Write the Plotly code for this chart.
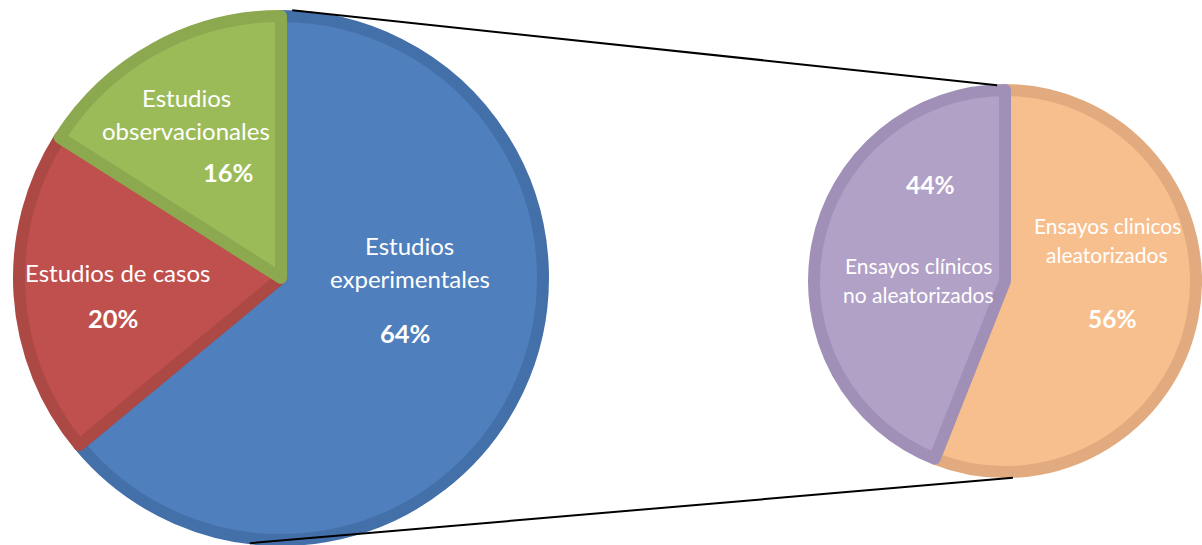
import plotly.graph_objects as go
import math

# ---------------- data ----------------
main_labels = ["Estudios<br>experimentales", "Estudios de casos", "Estudios<br>observacionales"]
main_values = [64, 20, 16]
sub_labels = ["Ensayos clinicos<br>aleatorizados", "Ensayos clínicos<br>no aleatorizados"]
sub_values = [56, 44]

# ---------------- styles ----------------
W, H = 1202, 545
main_fill = ["#4F7FBC", "#C0504D", "#9BBB59"]
main_line = ["#4470AA", "#AD4945", "#8CA950"]
sub_fill = ["#F8BF8E", "#B2A1C7"]
sub_line = ["#E2AB7F", "#A08FB7"]
FONT = "Lato, 'Open Sans', sans-serif"
BW = 12  # slice border width

# pie geometry in pixels (center x, center y from top, radius of fill)
L_CX, L_CY, L_R = 281, 278, 268 - BW / 2
R_CX, R_CY, R_R = 1005, 281, 197 - BW / 2


def dom(cx, cy, r):
    return dict(x=[(cx - r) / W, (cx + r) / W], y=[(H - (cy + r)) / H, (H - (cy - r)) / H])


fig = go.Figure()
fig.add_trace(go.Pie(
    labels=main_labels, values=main_values, sort=False, direction="clockwise", rotation=0,
    marker=dict(colors=main_fill, line=dict(color=main_line, width=BW)),
    textinfo="none", hoverinfo="label+percent", domain=dom(L_CX, L_CY, L_R), showlegend=False,
))
fig.add_trace(go.Pie(
    labels=sub_labels, values=sub_values, sort=False, direction="clockwise", rotation=0,
    marker=dict(colors=sub_fill, line=dict(color=sub_line, width=BW)),
    textinfo="none", hoverinfo="label+percent", domain=dom(R_CX, R_CY, R_R), showlegend=False,
))

# label placement (pixels): name block center, percent center
main_pos = [((410, 262), (405, 333)), ((117, 272), (113, 318)), ((186, 114), (228, 172))]
sub_pos = [((1107, 240), (1112, 318)), ((918, 280), (930, 185))]

annotations = []


def add_labels(labels, values, positions, fs, pfs, spacing):
    for lab, val, ((nx, ny), (px, py)) in zip(labels, values, positions):
        lines = lab.split("<br>")
        n = len(lines)
        for i, ln in enumerate(lines):
            y = ny + (i - (n - 1) / 2) * spacing
            annotations.append(dict(x=nx / W, y=1 - y / H, xref="paper", yref="paper", text=ln,
                                    showarrow=False, font=dict(family=FONT, size=fs, color="white"),
                                    xanchor="center", yanchor="middle"))
        annotations.append(dict(x=px / W, y=1 - py / H, xref="paper", yref="paper", text=f"<b>{val}%</b>",
                                showarrow=False, font=dict(family=FONT, size=pfs, color="white"),
                                xanchor="center", yanchor="middle"))


add_labels(main_labels, main_values, main_pos, 24, 25.5, 33)
add_labels(sub_labels, sub_values, sub_pos, 21, 24.5, 29)


def pt(cx, cy, r, ang):
    a = math.radians(ang)
    return (cx + r * math.sin(a)) / W, 1 - (cy - r * math.cos(a)) / H


# connector lines between the two pies
x0, y0 = pt(L_CX, L_CY, 268, 2.4)
x1, y1 = pt(R_CX, R_CY, 196, -2.3)
x2, y2 = pt(L_CX, L_CY, 267, 186.7)
x3, y3 = pt(R_CX, R_CY, 197, 177.7)
shapes = [
    dict(type="line", xref="paper", yref="paper", x0=x0, y0=y0, x1=x1, y1=y1, line=dict(color="black", width=2)),
    dict(type="line", xref="paper", yref="paper", x0=x2, y0=y2, x1=x3, y1=y3, line=dict(color="black", width=2)),
]

fig.update_layout(
    width=W, height=H, margin=dict(l=0, r=0, t=0, b=0),
    paper_bgcolor="white", plot_bgcolor="white",
    annotations=annotations, shapes=shapes,
)
fig.write_html("out.html", config={"displayModeBar": False},
               post_script="document.body.style.margin='0';document.body.style.overflow='hidden';")
